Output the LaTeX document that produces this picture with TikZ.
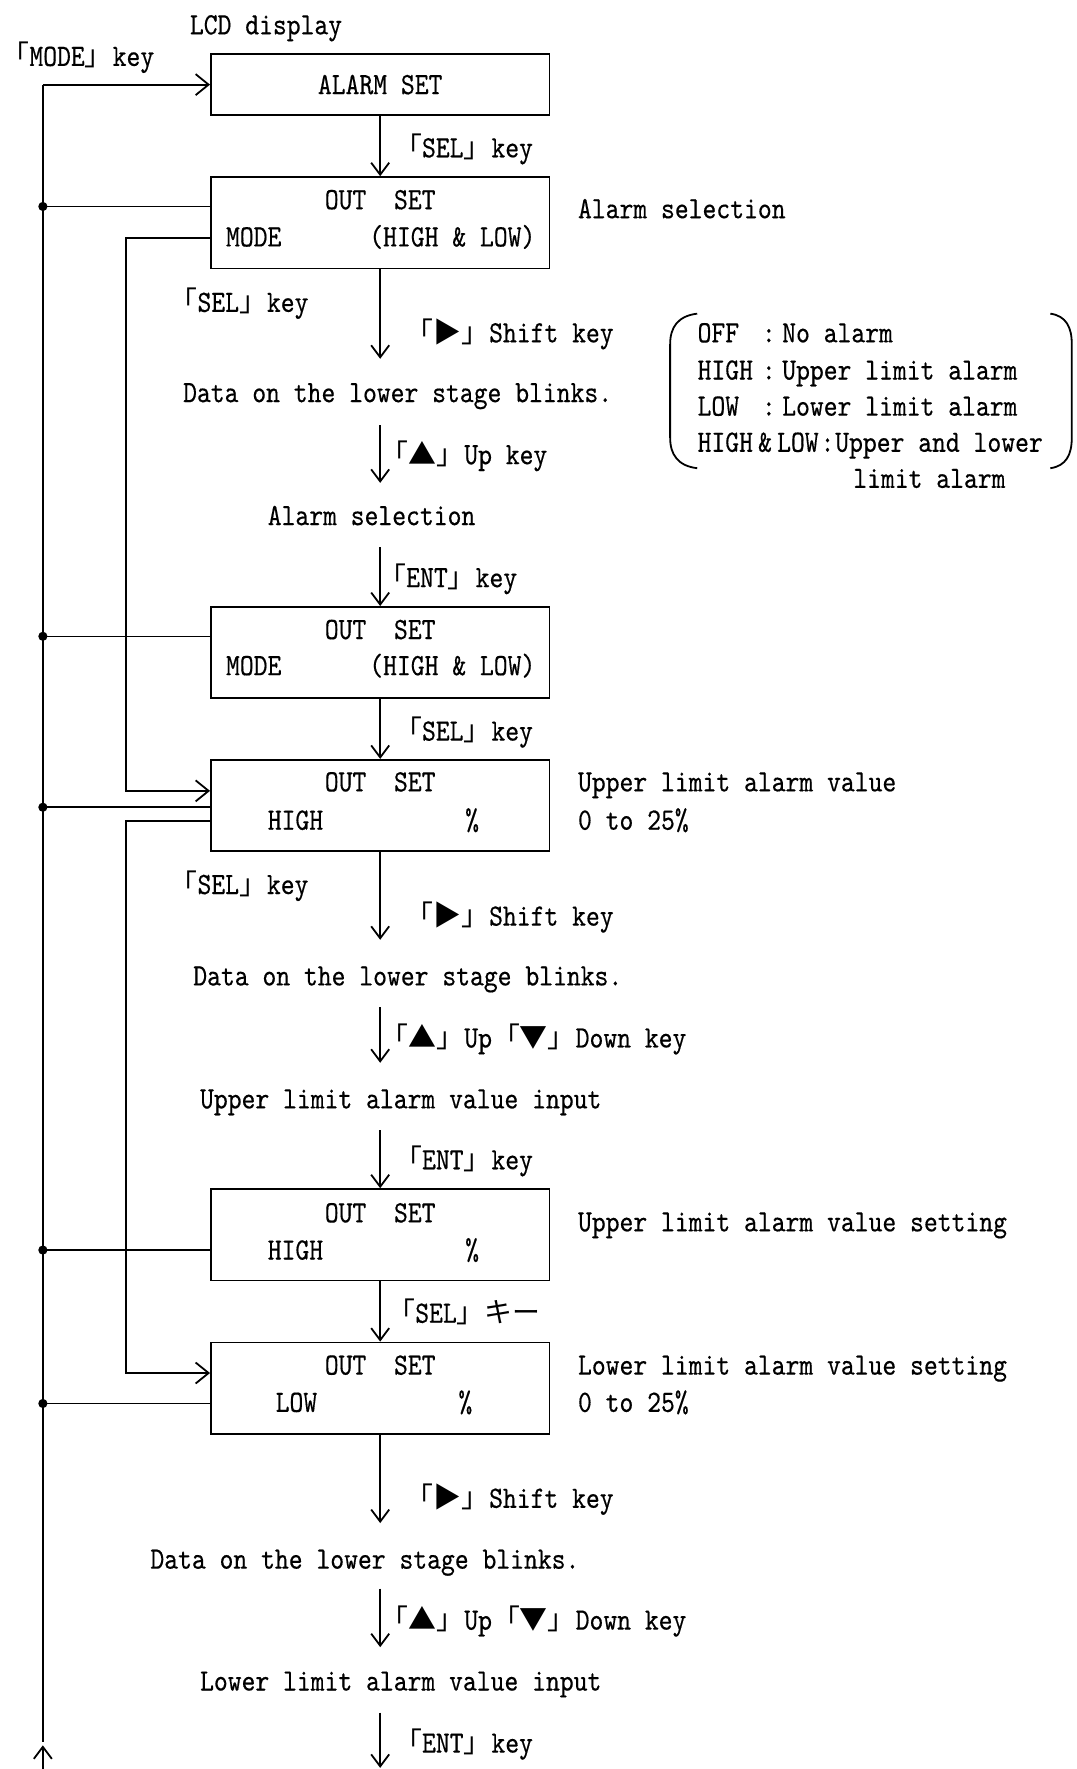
\documentclass[tikz,border=0pt]{standalone}
\usepackage{fontspec}
\setmainfont{lmmono10-regular.otf}[FakeStretch=0.85,FakeBold=0.4]
\newfontfamily\cjk{Noto Sans CJK JP}[Scale=0.9]
\usetikzlibrary{arrows.meta}
\newcommand\kL{{\cjk 「}}
\newcommand\kR{{\cjk 」}}
\begin{document}
\begin{tikzpicture}[x=0.56394pt,y=-0.56394pt,
  every node/.style={font=\fontsize{15.5pt}{18pt}\selectfont, inner sep=0pt, text height=9.5pt, text depth=0pt},
  lbl/.style={anchor=west},
  box/.style={draw, line width=0.9pt, minimum width=169.2pt, minimum height=45.7pt},
  conn/.style={line width=0.9pt},
  varr/.style={conn, -{Straight Barb[length=6pt,width=9pt,line width=0.9pt]}},
  harr/.style={conn, -{Straight Barb[length=6.5pt,width=10.5pt,line width=0.9pt]}},
  mainline/.style={line width=0.75pt},
  dot/.style={fill=black}]
\useasboundingbox (0,0) rectangle (954,1568);

% boxes
\node[box, minimum height=30.45pt] (b1) at (337,75) {};
\node[box] (b2) at (337,197.5) {};
\node[box] (b3) at (337,578.5) {};
\node[box] (b4) at (337,714) {};
\node[box] (b5) at (337,1094.5) {};
\node[box] (b6) at (337,1230.5) {};

% box texts
\node (b1t) at (b1) {ALARM SET};
\node (b2a) at (337,177) {OUT~~SET};
\node[lbl] (b2b) at (200,210) {MODE};
\node[lbl] (b2c) at (327,210) {(HIGH \& LOW)};
\node (b3a) at (337,558) {OUT~~SET};
\node[lbl] (b3b) at (200,590) {MODE};
\node[lbl] (b3c) at (327,590) {(HIGH \& LOW)};
\node (b4a) at (337,693) {OUT~~SET};
\node[lbl] (b4b) at (237,727) {HIGH};
\node[lbl] (b4c) at (412,727) {\%};
\node (b5a) at (337,1075) {OUT~~SET};
\node[lbl] (b5b) at (237,1108) {HIGH};
\node[lbl] (b5c) at (412,1108) {\%};
\node (b6a) at (337,1210) {OUT~~SET};
\node[lbl] (b6b) at (244,1243) {LOW};
\node[lbl] (b6c) at (406,1243) {\%};

% top texts
\node[lbl] (lcd) at (168,22) {LCD display};
\node[lbl] (mode) at (1,50) {\kL MODE\kR key};

% right texts
\node[lbl] (r1) at (512,185) {Alarm selection};
\node[lbl] (r2) at (512,693) {Upper limit alarm value};
\node[lbl] (r3) at (512,727) {0 to 25\%};
\node[lbl] (r4) at (512,1083) {Upper limit alarm value setting};
\node[lbl] (r5) at (512,1210) {Lower limit alarm value setting};
\node[lbl] (r6) at (512,1243) {0 to 25\%};

% bracket note
\draw[line width=0.9pt] (618,278) .. controls (601,280) and (594,290) .. (594,305) -- (594,388) .. controls (594,403) and (601,413) .. (618,415);
\draw[line width=0.9pt] (931,278) .. controls (945,280) and (950,290) .. (950,305) -- (950,388) .. controls (950,403) and (945,413) .. (931,415);
\node[lbl] (n1a) at (618,295) {OFF};
\node[lbl] (n1b) at (675,295) {:};
\node[lbl] (n1c) at (693,295) {No alarm};
\node[lbl] (n2a) at (618,328) {HIGH};
\node[lbl] (n2b) at (675,328) {:};
\node[lbl] (n2c) at (693,328) {Upper limit alarm};
\node[lbl] (n3a) at (618,360) {LOW};
\node[lbl] (n3b) at (675,360) {:};
\node[lbl] (n3c) at (693,360) {Lower limit alarm};
\node[lbl] (n4a) at (618,392) {HIGH\,\&\,LOW};
\node[lbl] (n4b) at (727,392) {:};
\node[lbl] (n4c) at (740,392) {Upper and lower};
\node[lbl] (n5) at (756,424) {limit alarm};

% flow texts
\node[lbl] (k1) at (349,131) {\kL SEL\kR key};
\node[lbl] (k2) at (150,268) {\kL SEL\kR key};
\node[lbl] (k3) at (359,295) {{\cjk 「▶」}Shift key};
\node[lbl] (s1) at (162,348) {Data on the lower stage blinks.};
\node[lbl] (k4) at (337,403) {{\cjk 「▲」}Up key};
\node[lbl] (s2) at (237,457) {Alarm selection};
\node[lbl] (k5) at (335,512) {\kL ENT\kR key};
\node[lbl] (k6) at (349,648) {\kL SEL\kR key};
\node[lbl] (k7) at (150,784) {\kL SEL\kR key};
\node[lbl] (k8) at (359,812) {{\cjk 「▶」}Shift key};
\node[lbl] (s3) at (171,865) {Data on the lower stage blinks.};
\node[lbl] (k9) at (337,920) {{\cjk 「▲」}Up{\cjk 「▼」}Down key};
\node[lbl] (s4) at (177,974) {Upper limit alarm value input};
\node[lbl] (k10) at (349,1028) {\kL ENT\kR key};
\node[lbl] (k11) at (343,1164) {\kL SEL\kR{\cjk キー}};
\node[lbl] (k12) at (359,1328) {{\cjk 「▶」}Shift key};
\node[lbl] (s5) at (133,1382) {Data on the lower stage blinks.};
\node[lbl] (k13) at (337,1436) {{\cjk 「▲」}Up{\cjk 「▼」}Down key};
\node[lbl] (s6) at (177,1490) {Lower limit alarm value input};
\node[lbl] (k14) at (349,1545) {\kL ENT\kR key};

% flow coordinates
\coordinate (t1) at (337,318);
\coordinate (u1) at (337,377);
\coordinate (t2) at (337,428);
\coordinate (u2) at (337,485);
\coordinate (t3) at (337,833);
\coordinate (u3) at (337,893);
\coordinate (t4) at (337,942);
\coordinate (u4) at (337,1002);
\coordinate (t5) at (337,1350);
\coordinate (u5) at (337,1408);
\coordinate (t6) at (337,1460);
\coordinate (u6) at (337,1518);
\coordinate (t7) at (337,1567);

\draw[varr] (b1.south) -- (b2.north);
\draw[varr] (b2.south) -- (t1);
\draw[varr] (u1) -- (t2);
\draw[varr] (u2) -- (b3.north);
\draw[varr] (b3.south) -- (b4.north);
\draw[varr] (b4.south) -- (t3);
\draw[varr] (u3) -- (t4);
\draw[varr] (u4) -- (b5.north);
\draw[varr] (b5.south) -- (b6.north);
\draw[varr] (b6.south) -- (t5);
\draw[varr] (u5) -- (t6);
\draw[varr] (u6) -- (t7);

% main return line
\coordinate (m0) at (38,75);
\coordinate (m1) at (38,1544);
\coordinate (m2) at (38,1568);
\coordinate (m3) at (38,1547);
\draw[mainline] (m0) -- (m1);
\draw[harr] (m0) -- (b1.west);
\draw[varr] (m2) -- (m3);

\coordinate (d1) at (38,183);
\coordinate (d2) at (38,564);
\coordinate (d3) at (38,715.5);
\coordinate (d4) at (38,1108);
\coordinate (d5) at (38,1244);
\foreach \d/\b in {d1/b2,d2/b3,d3/b4,d4/b5,d5/b6}{
  \draw[mainline] (\d) -- (\d -| \b.west);
  \fill[dot] (\d) circle (2.3pt);
}

% inner lines
\coordinate (c1) at (112,211);
\coordinate (e1) at (112,701);
\coordinate (c2) at (112,728);
\coordinate (e2) at (112,1217);
\draw[harr] (c1 -| b2.west) -- (c1) -- (e1) -- (e1 -| b4.west);
\draw[harr] (c2 -| b4.west) -- (c2) -- (e2) -- (e2 -| b6.west);
\end{tikzpicture}
\end{document}
